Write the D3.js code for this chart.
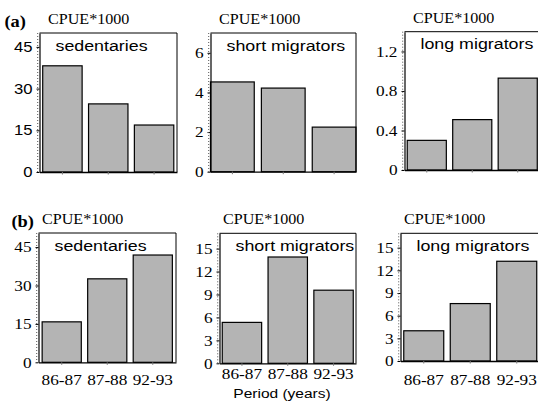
<!DOCTYPE html>
<html>
<head>
<meta charset="utf-8">
<script src="https://cdn.jsdelivr.net/npm/d3@7"></script>
<style>
  body { margin: 0; background: #fff; }
  svg { display: block; }
</style>
</head>
<body>
<div id="chart"></div>
<script>
// data
var periods = ["86-87", "87-88", "92-93"];
var groups = ["sedentaries", "short migrators", "long migrators"];

var sedentariesA = [38.2, 24.5, 16.9];
var shortA = [4.53, 4.22, 2.25];
var longA = [0.30, 0.51, 0.93];

var sedentariesB = [15.8, 32.6, 41.9];
var shortB = [5.35, 13.9, 9.56];
var longB = [4.0, 7.6, 13.2];

var ticksSed = [0, 15, 30, 45];
var ticksShortA = [0, 2, 4, 6];
var ticksLongA = [0, 0.4, 0.8, 1.2];
var ticksB = [0, 3, 6, 9, 12, 15];

var yLabel = "CPUE*1000";
var xTitle = "Period (years)";

var serif = "Liberation Serif";
var sans = "Liberation Sans";
var sx = 1.15; // the figure is stretched sideways a little

var svg = d3.select("#chart").append("svg")
    .attr("width", 538)
    .attr("height", 414);

function txt(g, s, x, y, size, family, anchor, weight) {
  return g.append("text")
      .attr("transform", "translate(" + x + "," + y + ") scale(" + sx + ",1)")
      .attr("text-anchor", anchor || "start")
      .attr("font-family", family)
      .attr("font-size", size)
      .attr("font-weight", weight || "normal")
      .attr("fill", "#000")
      .text(s);
}

var panels = [
  {vals: sedentariesA, title: groups[0], ticks: ticksSed, max: 50, l: 39.5, t: 33, r: 177, b: 172, tickFont: sans, tickSize: 14.5, po: 0.07, tag: "(a)", xlab: false},
  {vals: shortA, title: groups[1], ticks: ticksShortA, max: 7, l: 210.5, t: 33, r: 356, b: 171.7, tickFont: serif, tickSize: 15, po: 0.0, xlab: false},
  {vals: longA, title: groups[2], ticks: ticksLongA, max: 1.4, l: 404.5, t: 31.7, r: 540, b: 170, tickFont: serif, tickSize: 15, po: 0.06, xlab: false},
  {vals: sedentariesB, title: groups[0], ticks: ticksSed, max: 50.5, l: 38.5, t: 233, r: 176, b: 362.3, tickFont: serif, tickSize: 15, po: 0.08, tag: "(b)", xlab: true, xy: 385},
  {vals: shortB, title: groups[1], ticks: ticksB, max: 17, l: 219.5, t: 233.3, r: 356, b: 363.3, tickFont: serif, tickSize: 15, po: 0.06, xlab: true, xy: 378.5},
  {vals: longB, title: groups[2], ticks: ticksB, max: 16.9, l: 400.5, t: 233.3, r: 540, b: 361, tickFont: serif, tickSize: 15, po: 0.07, xlab: true, xy: 385}
];

panels.forEach(function (p) {
  var g = svg.append("g");

  var x = d3.scaleBand()
      .domain(periods)
      .range([p.l, p.r])
      .paddingInner(0.14)
      .paddingOuter(p.po);

  var y = d3.scaleLinear()
      .domain([0, p.max])
      .range([p.b, p.t]);

  // bars
  g.selectAll("rect.bar")
      .data(p.vals)
      .enter()
      .append("rect")
      .attr("class", "bar")
      .attr("x", function (d, i) { return x(periods[i]); })
      .attr("y", function (d) { return y(d); })
      .attr("width", x.bandwidth())
      .attr("height", function (d) { return y(0) - y(d); })
      .style("fill", "#b4b4b4")
      .style("stroke", "#000")
      .style("stroke-width", 1.2);

  // frame: top and right
  g.append("path")
      .attr("d", "M" + p.l + "," + p.t + "H" + p.r + "V" + p.b)
      .style("fill", "none")
      .style("stroke", "#000")
      .style("stroke-width", 1);

  // bottom axis with small ticks under the bars
  var xAxis = g.append("g")
      .attr("transform", "translate(0," + p.b + ")")
      .call(d3.axisBottom(x).tickSize(2.5).tickSizeOuter(0).tickFormat(""));
  xAxis.select(".domain").style("stroke", "#000").style("stroke-width", 1.3);
  xAxis.selectAll(".tick line").style("stroke", "#777");

  // left axis: solid line, dotted minor ticks, labelled major ticks
  var yAxis = g.append("g")
      .attr("transform", "translate(" + p.l + ",0)")
      .call(d3.axisLeft(y).tickValues(p.ticks).tickSize(3).tickSizeOuter(0).tickFormat(""));
  yAxis.select(".domain").style("stroke", "#000").style("stroke-width", 1.2);
  yAxis.selectAll(".tick line").style("stroke", "#000");

  g.append("line")
      .attr("x1", p.l - 1.8).attr("x2", p.l - 1.8)
      .attr("y1", p.t).attr("y2", p.b)
      .style("stroke", "#555")
      .style("stroke-width", 1)
      .style("stroke-dasharray", "1,2");

  p.ticks.forEach(function (v) {
    txt(g, d3.format("~g")(v), p.l - 7, y(v) + p.tickSize * 0.35, p.tickSize, p.tickFont, "end");
  });

  // labels
  txt(g, yLabel, p.l + (p.t < 100 ? 8.5 : 3.5), p.t - 9, 14, serif, "start");
  if (p.tag) {
    txt(g, p.tag, p.tag === "(a)" ? 4.5 : 11.5, p.t - 6.5, 16, serif, "start", "bold");
  }
  txt(g, p.title, p.l + 16, p.t + 17.5, 15.5, sans, "start");

  if (p.xlab) {
    periods.forEach(function (c) {
      txt(g, c, x(c) + x.bandwidth() / 2, p.xy, 15, serif, "middle");
    });
  }
});

txt(svg, xTitle, 282, 398, 13.5, sans, "middle");
</script>
</body>
</html>
